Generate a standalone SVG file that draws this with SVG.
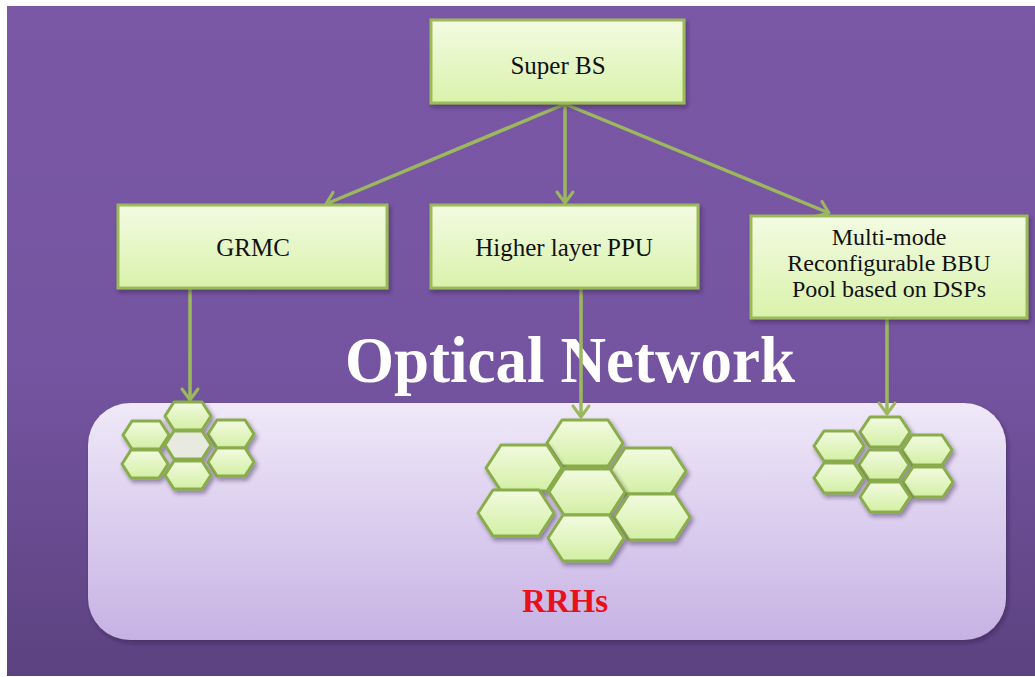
<svg xmlns="http://www.w3.org/2000/svg" width="1035" height="677" viewBox="0 0 1035 677">
<defs>
<linearGradient id="bg" x1="0" y1="0" x2="0" y2="1">
<stop offset="0" stop-color="#7b58a6"/>
<stop offset="0.55" stop-color="#7454a0"/>
<stop offset="1" stop-color="#5c4280"/>
</linearGradient>
<linearGradient id="pane" x1="0" y1="0" x2="0" y2="1">
<stop offset="0" stop-color="#efe9f8"/>
<stop offset="1" stop-color="#c7b2e4"/>
</linearGradient>
<linearGradient id="box" x1="0" y1="0" x2="0" y2="1">
<stop offset="0" stop-color="#f3fbe2"/>
<stop offset="1" stop-color="#d9f2ab"/>
</linearGradient>
<linearGradient id="hexg" x1="0" y1="0" x2="0" y2="1">
<stop offset="0" stop-color="#f2fbe0"/>
<stop offset="1" stop-color="#d3efa4"/>
</linearGradient>
<filter id="sh" x="-20%" y="-20%" width="140%" height="150%">
<feDropShadow dx="2" dy="3" stdDeviation="2" flood-color="#2a1a40" flood-opacity="0.45"/>
</filter>
<marker id="arr" markerUnits="userSpaceOnUse" markerWidth="30" markerHeight="30" viewBox="-15 -15 30 30" refX="0" refY="0" orient="auto" overflow="visible">
<path d="M -11 -8 L 0 0 L -11 8" fill="none" stroke="#9cb85e" stroke-width="3" stroke-linecap="round" stroke-linejoin="round"/>
</marker>
</defs>
<style>
.box{fill:url(#box);stroke:#9bbb59;stroke-width:3;filter:url(#sh)}
.hex{fill:url(#hexg);stroke:#8aad4c;stroke-width:3;stroke-linejoin:round;filter:url(#sh)}
.lbl{font-size:25px;fill:#111;text-anchor:middle}
.ml{font-size:24px}
.conn{fill:none;stroke:#9cb85e;stroke-width:3.5;marker-end:url(#arr)}
</style>
<rect x="0" y="0" width="1035" height="677" fill="#ffffff"/>
<rect x="7" y="6" width="1028" height="670" fill="url(#bg)"/>
<g id="rrh-area">
<rect x="88" y="403" width="918" height="237" rx="42" fill="url(#pane)" filter="url(#sh)"/>
<text x="565" y="612" font-family="Liberation Serif, Times New Roman, serif" font-size="33" font-weight="bold" fill="#e8101a" text-anchor="middle">RRHs</text>
</g>
<g id="optical-network">
<text x="570" y="382" font-family="Liberation Serif, Times New Roman, serif" font-size="66" font-weight="bold" fill="#ffffff" text-anchor="middle" textLength="450" lengthAdjust="spacingAndGlyphs">Optical Network</text>
</g>
<g id="connectors">
<line class="conn" x1="565" y1="104" x2="326" y2="204"/>
<line class="conn" x1="565" y1="104" x2="565" y2="203"/>
<line class="conn" x1="565" y1="104" x2="829" y2="213"/>
<line class="conn" x1="190" y1="289" x2="190" y2="400"/>
<line class="conn" x1="581" y1="289" x2="581" y2="417"/>
<line class="conn" x1="887" y1="319" x2="887" y2="414"/>
</g>
<g font-family="Liberation Serif, Times New Roman, serif">
<g id="super-bs">
<rect class="box" x="431" y="20" width="253" height="83"/>
<text class="lbl" x="558" y="74">Super BS</text>
</g>
<g id="grmc">
<rect class="box" x="118" y="205" width="269" height="83"/>
<text class="lbl" x="253" y="256">GRMC</text>
</g>
<g id="ppu">
<rect class="box" x="431" y="205" width="267" height="83"/>
<text class="lbl" x="564" y="256">Higher layer PPU</text>
</g>
<g id="bbu">
<rect class="box" x="751" y="216" width="276" height="102"/>
<text class="lbl ml" x="889" y="245">Multi-mode</text>
<text class="lbl ml" x="889" y="271">Reconfigurable BBU</text>
<text class="lbl ml" x="889" y="297">Pool based on DSPs</text>
</g>
</g>
<g id="rrh-cluster-1">
<polygon class="hex" points="165,416 174,402 202,402 211,416 202,430 174,430"/>
<polygon class="hex" points="123,435 132,421 160,421 169,435 160,449 132,449"/>
<polygon class="hex" points="208,434 217,420 245,420 254,434 245,448 217,448"/>
<polygon class="hex" style="fill:#e9eadf" points="165,445 174,431 202,431 211,445 202,459 174,459"/>
<polygon class="hex" points="122,464 131,450 159,450 168,464 159,478 131,478"/>
<polygon class="hex" points="208,462 217,448 245,448 254,462 245,476 217,476"/>
<polygon class="hex" points="165,475 174,461 202,461 211,475 202,489 174,489"/>
</g>
<g id="rrh-cluster-2">
<polygon class="hex" points="547,443 562,420 608,420 623,443 608,466 562,466"/>
<polygon class="hex" points="486,468 501,445 547,445 562,468 547,491 501,491"/>
<polygon class="hex" points="610,471 625,448 671,448 686,471 671,494 625,494"/>
<polygon class="hex" points="549,492 564,469 610,469 625,492 610,515 564,515"/>
<polygon class="hex" points="478,513 493,490 539,490 554,513 539,536 493,536"/>
<polygon class="hex" points="614,517 629,494 675,494 690,517 675,540 629,540"/>
<polygon class="hex" points="548,538 563,515 609,515 624,538 609,561 563,561"/>
</g>
<g id="rrh-cluster-3">
<polygon class="hex" points="860,432 870,417 900,417 910,432 900,447 870,447"/>
<polygon class="hex" points="814,446 824,431 854,431 864,446 854,461 824,461"/>
<polygon class="hex" points="902,450 912,435 942,435 952,450 942,465 912,465"/>
<polygon class="hex" points="859,465 869,450 899,450 909,465 899,480 869,480"/>
<polygon class="hex" points="814,478 824,463 854,463 864,478 854,493 824,493"/>
<polygon class="hex" points="903,482 913,467 943,467 953,482 943,497 913,497"/>
<polygon class="hex" points="860,497 870,482 900,482 910,497 900,512 870,512"/>
</g>
</svg>
